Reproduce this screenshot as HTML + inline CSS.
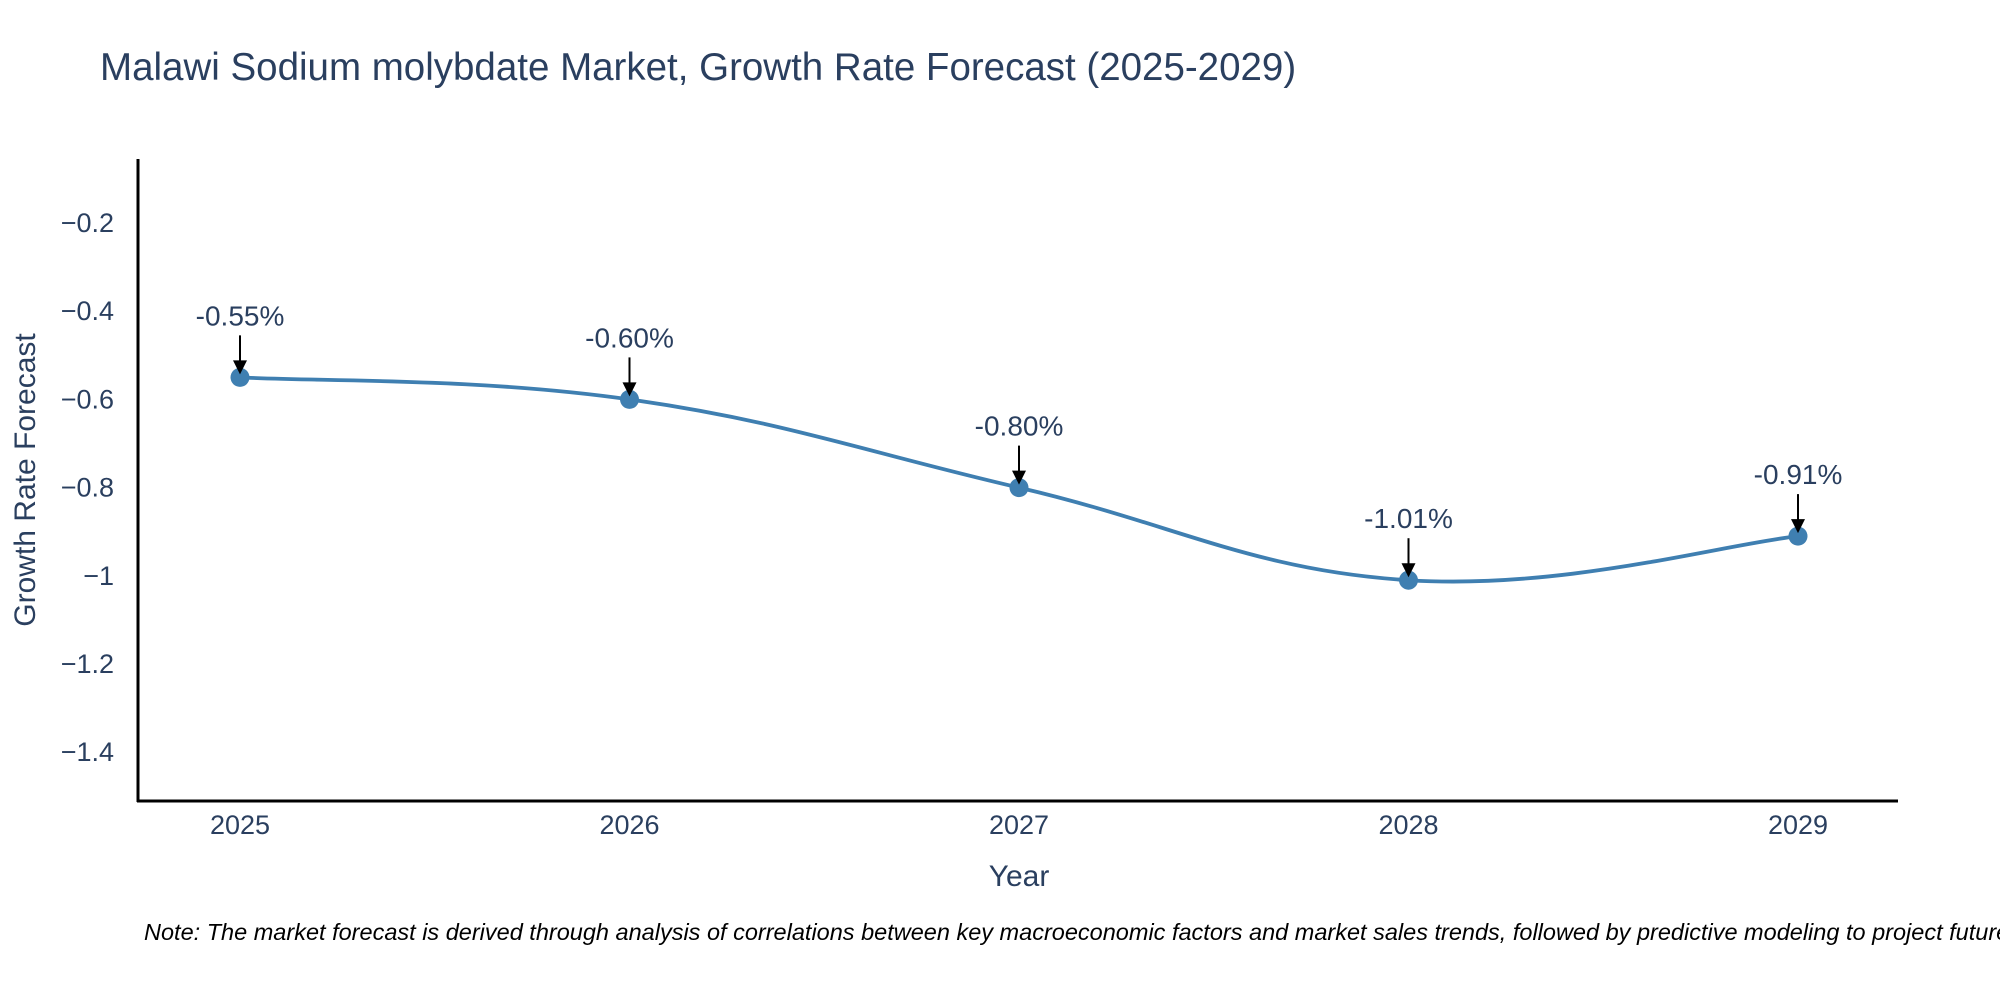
<!DOCTYPE html>
<html><head><meta charset="utf-8"><style>
html,body{margin:0;padding:0;background:#fff;width:2000px;height:1000px;overflow:hidden}
text{font-family:"Liberation Sans","DejaVu Sans",sans-serif}
</style></head><body>
<svg id="chart" width="2000" height="1000" xmlns="http://www.w3.org/2000/svg">
<text x="100" y="80" font-size="38.5" fill="#2a3f5f">Malawi Sodium molybdate Market, Growth Rate Forecast (2025-2029)</text>
<g id="yticks"></g>
<g id="xticks"></g>
<line x1="138" y1="159" x2="138" y2="802" stroke="#000" stroke-width="3"/>
<line x1="137" y1="801" x2="1898" y2="801" stroke="#000" stroke-width="3"/>
<text transform="translate(35,480) rotate(-90)" text-anchor="middle" font-size="30" fill="#2a3f5f">Growth Rate Forecast</text>
<text x="1019" y="886" text-anchor="middle" font-size="30" fill="#2a3f5f">Year</text>
<g id="series"></g>
<g id="annots"></g>
<text x="144" y="940" font-size="23.5" font-style="italic" fill="#000">Note: The market forecast is derived through analysis of correlations between key macroeconomic factors and market sales trends, followed by predictive modeling to project future sales.</text>
</svg>
<script>
const years = [2025, 2026, 2027, 2028, 2029];
const growth = [-0.55, -0.60, -0.80, -1.01, -0.91];
const labels = ["-0.55%", "-0.60%", "-0.80%", "-1.01%", "-0.91%"];
const yTickVals = [-0.2, -0.4, -0.6, -0.8, -1, -1.2, -1.4];
const yTickLabels = ["\u22120.2", "\u22120.4", "\u22120.6", "\u22120.8", "\u22121", "\u22121.2", "\u22121.4"];

const NS = "http://www.w3.org/2000/svg";
function xs(v){ return 240 + (v - 2025) * (1798 - 240) / 4; }
function ys(v){ return 223 + (-0.2 - v) * 441; }
function mk(tag, attrs, parent){ const e = document.createElementNS(NS, tag); for (const k in attrs) e.setAttribute(k, attrs[k]); parent.appendChild(e); return e; }

const yt = document.getElementById('yticks');
yTickVals.forEach((v, i) => {
  const t = mk('text', {x: 114, y: ys(v) + 9, 'text-anchor': 'end', 'font-size': 27, fill: '#2a3f5f'}, yt);
  
  
  t.textContent = yTickLabels[i];
});
const xt = document.getElementById('xticks');
years.forEach(y => {
  const t = mk('text', {x: xs(y), y: 834, 'text-anchor': 'middle', 'font-size': 27, fill: '#2a3f5f'}, xt);
  
  
  t.textContent = String(y);
});

const pts = years.map((y, i) => [xs(y), ys(growth[i])]);
let d = 'M' + pts[0][0] + ',' + pts[0][1];
const s = 0.2;
for (let i = 0; i < pts.length - 1; i++) {
  const p0 = pts[Math.max(0, i - 1)], p1 = pts[i], p2 = pts[i + 1], p3 = pts[Math.min(pts.length - 1, i + 2)];
  const c1 = [p1[0] + (p2[0] - p0[0]) * s, p1[1] + (p2[1] - p0[1]) * s];
  const c2 = [p2[0] - (p3[0] - p1[0]) * s, p2[1] - (p3[1] - p1[1]) * s];
  d += ' C' + c1.join(',') + ' ' + c2.join(',') + ' ' + p2.join(',');
}
const ser = document.getElementById('series');
const path = mk('path', {d: d, fill: 'none', stroke: '#3f7fb1', 'stroke-width': 3.8}, ser);


pts.forEach(p => {
  const c = mk('circle', {cx: p[0], cy: p[1], r: 9.5, fill: '#3f7fb1'}, ser);
  
  
});

const an = document.getElementById('annots');
pts.forEach((p, i) => {
  const top = p[1] - 42;
  const ln = mk('line', {x1: p[0], y1: top, x2: p[0], y2: p[1] - 14, stroke: '#000', 'stroke-width': 2}, an);
  
  
  const hd = mk('polygon', {points: (p[0] - 7) + ',' + (p[1] - 17) + ' ' + (p[0] + 7) + ',' + (p[1] - 17) + ' ' + p[0] + ',' + (p[1] - 3), fill: '#000'}, an);
  
  
  const t = mk('text', {x: p[0], y: top - 10, 'text-anchor': 'middle', 'font-size': 28, fill: '#2a3f5f'}, an);
  
  
  t.textContent = labels[i];
});
</script>
</body></html>
